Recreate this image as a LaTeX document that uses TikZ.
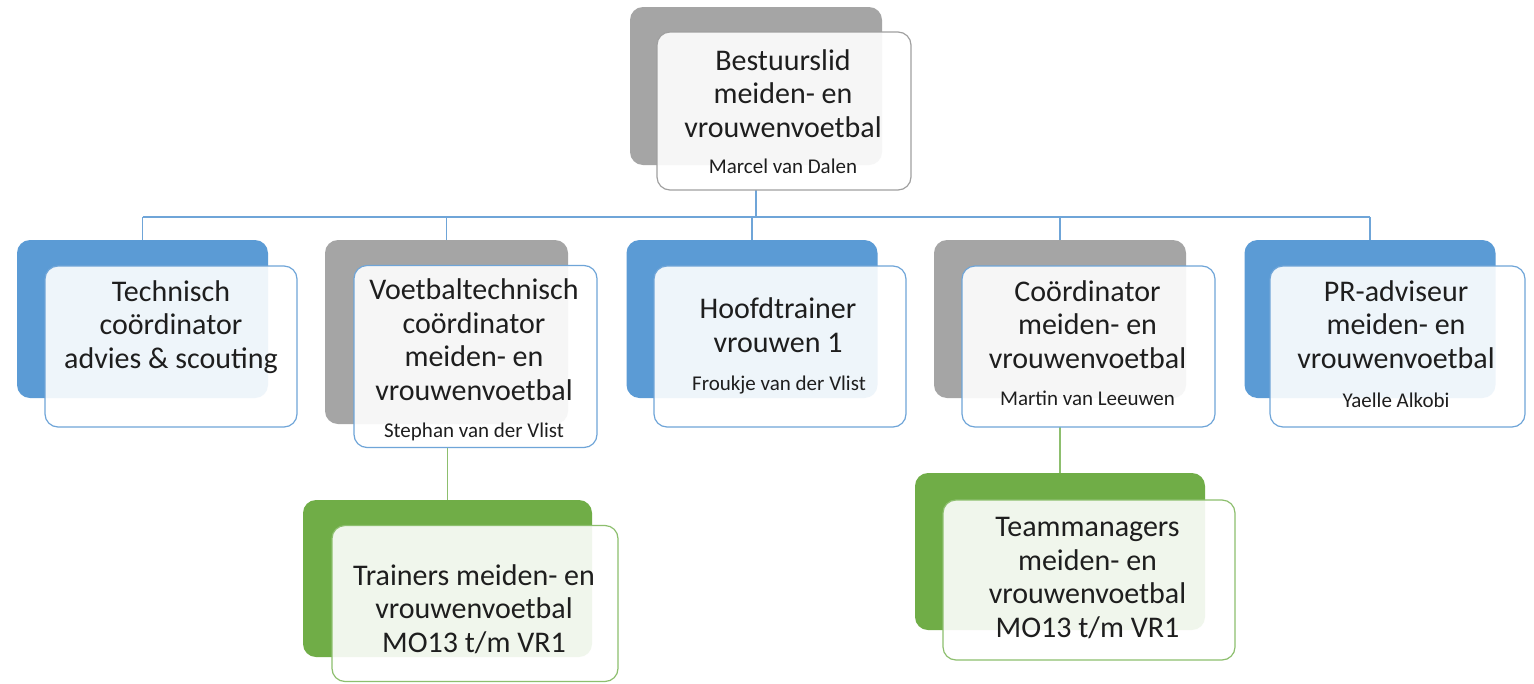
\documentclass[tikz,border=0pt]{standalone}
\usepackage{fontspec}
\setmainfont{Carlito}
\newcommand\orgbig{\fontsize{30}{33.5}\selectfont}
\newcommand\orgsmall{\fontsize{21}{24}\selectfont}
\definecolor{oblue}{HTML}{5B9BD5}
\definecolor{ogrey}{HTML}{A5A5A5}
\definecolor{ogreen}{HTML}{70AD47}
\definecolor{lblue}{HTML}{6FA5D8}
\definecolor{lgreen}{HTML}{8DBF6E}
\definecolor{lgrey}{HTML}{A0A0A0}
\definecolor{txt}{HTML}{1E1E1E}
\tikzset{
  backbox/.style={rectangle, rounded corners=13pt, inner sep=0pt, fill=#1, draw=none},
  frontbox/.style={rectangle, rounded corners=13pt, inner sep=0pt, fill=white, fill opacity=0.9, draw opacity=1, draw=#1, line width=1.2pt},
  bigtext/.style={font=\orgbig, text=txt, align=center, anchor=base, inner sep=0pt},
  smalltext/.style={font=\orgsmall, text=txt, anchor=base, inner sep=0pt},
  conn/.style={draw=lblue, line width=1.3pt},
  gconn/.style={draw=lgreen, line width=1.3pt},
}
\begin{document}
\begin{tikzpicture}[x=1pt,y=-1pt]
\useasboundingbox (0,0) rectangle (1534,683);
\fill[white] (0,0) rectangle (1534,683);
% bus coordinate
\coordinate (bus) at (0,217);
% ---------- back boxes ----------
\node[backbox=ogrey, minimum width=252pt, minimum height=158pt] (topB) at (756,86) {};
\node[backbox=oblue, minimum width=251pt, minimum height=158pt] (b1) at (142.5,319) {};
\node[backbox=ogrey, minimum width=243pt, minimum height=184pt] (b2) at (446.5,332) {};
\node[backbox=oblue, minimum width=251pt, minimum height=158pt] (b3) at (752,319) {};
\node[backbox=ogrey, minimum width=252pt, minimum height=158pt] (b4) at (1060,319) {};
\node[backbox=oblue, minimum width=251pt, minimum height=158pt] (b5) at (1370,319) {};
\node[backbox=ogreen, minimum width=289pt, minimum height=157pt] (t1B) at (447.5,578.5) {};
\node[backbox=ogreen, minimum width=290pt, minimum height=157pt] (t2B) at (1060,551.5) {};
% ---------- connectors ----------
\draw[conn] (topB.center |- 0,190) -- (topB.center |- bus);
\draw[conn] (b1.north |- bus) -- (b5.north |- bus);
\draw[conn] (b1.north |- bus) -- (b1.north);
\draw[conn] (b2.north |- bus) -- (b2.north);
\draw[conn] (b3.north |- bus) -- (b3.north);
\draw[conn] (b4.north |- bus) -- (b4.north);
\draw[conn] (b5.north |- bus) -- (b5.north);
\draw[gconn] (t1B.north |- 0,448) -- (t1B.north);
\draw[gconn] (t2B.north |- 0,427) -- (t2B.north);
% ---------- front boxes ----------
\node[frontbox=lgrey, minimum width=254pt, minimum height=158pt] (topF) at (784,111) {};
\node[frontbox=lblue, minimum width=252pt, minimum height=161pt] (f1) at (171,346.5) {};
\node[frontbox=lblue, minimum width=243pt, minimum height=182pt] (f2) at (475.5,356.5) {};
\node[frontbox=lblue, minimum width=252pt, minimum height=161pt] (f3) at (780,346.5) {};
\node[frontbox=lblue, minimum width=253pt, minimum height=161pt] (f4) at (1088.5,346.5) {};
\node[frontbox=lblue, minimum width=255pt, minimum height=161pt] (f5) at (1397.5,346.5) {};
\node[frontbox=lgreen, minimum width=286pt, minimum height=156pt] (t1F) at (475,603.5) {};
\node[frontbox=lgreen, minimum width=292pt, minimum height=160pt] (t2F) at (1089,580) {};
% ---------- texts (anchor = baseline of last line) ----------
\node[bigtext] (topT) at (783,137) {Bestuurslid\\meiden- en\\vrouwenvoetbal};
\node[smalltext] (topN) at (783,173) {Marcel van Dalen};
\node[bigtext] (t1T) at (171,368) {Technisch\\coördinator\\advies \& scouting};
\node[bigtext] (t2T) at (474,400) {Voetbaltechnisch\\coördinator\\meiden- en\\vrouwenvoetbal};
\node[smalltext] (t2N) at (474,437) {Stephan van der Vlist};
\node[bigtext] (t3T) at (778,352) {Hoofdtrainer\\vrouwen 1};
\node[smalltext] (t3N) at (779,390) {Froukje van der Vlist};
\node[bigtext] (t4T) at (1087.5,368) {Coördinator\\meiden- en\\vrouwenvoetbal};
\node[smalltext] (t4N) at (1087.5,405) {Martin van Leeuwen};
\node[bigtext] (t5T) at (1396,368) {PR-adviseur\\meiden- en\\vrouwenvoetbal};
\node[smalltext] (t5N) at (1396,407) {Yaelle Alkobi};
\node[bigtext] (t6T) at (474,652) {Trainers meiden- en\\vrouwenvoetbal\\MO13 t/m VR1};
\node[bigtext] (t7T) at (1087.5,637) {Teammanagers\\meiden- en\\vrouwenvoetbal\\MO13 t/m VR1};
\end{tikzpicture}
\end{document}
